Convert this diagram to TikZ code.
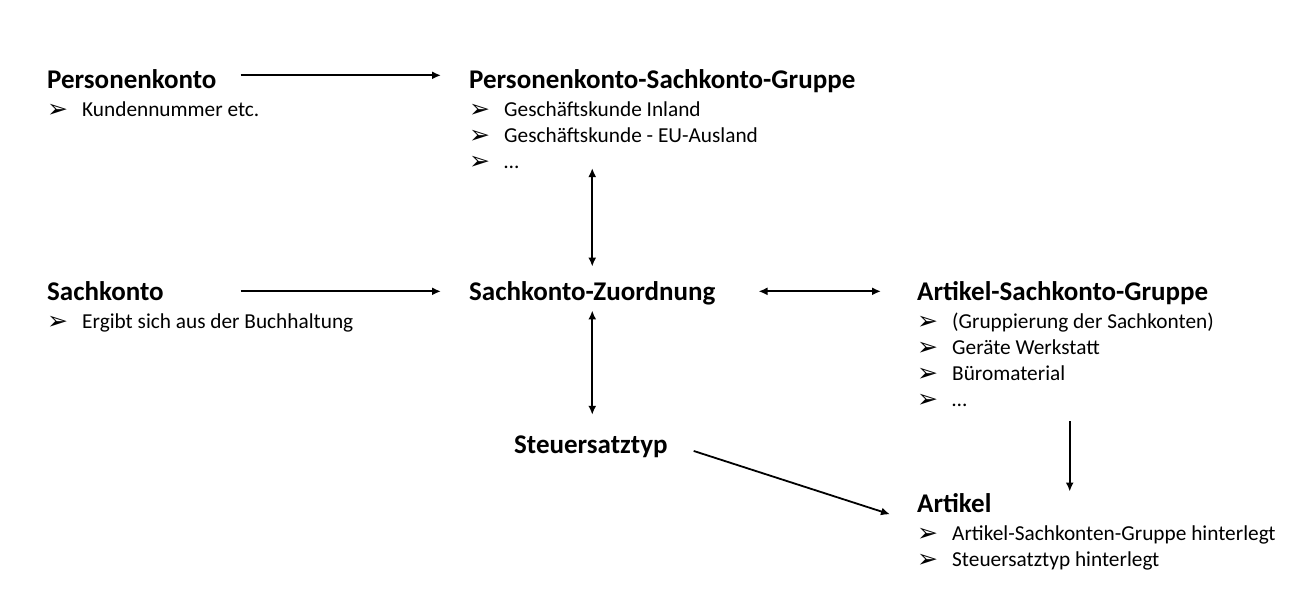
\documentclass[tikz,border=0pt]{standalone}
\usepackage{fontspec}
\setmainfont{Carlito}
\newfontfamily\symfont{DejaVu Sans}
\usetikzlibrary{arrows.meta,positioning}
\newcommand{\bul}{\makebox[35pt][l]{\raisebox{-1pt}{\symfont\fontsize{25}{25}\selectfont ➢}}}
\newcommand{\itm}[1]{\strut\bul #1}
\tikzset{
    title/.style={font=\fontsize{27}{30}\selectfont\bfseries, inner sep=0pt, anchor=base west},
    items/.style={font=\fontsize{21.3}{26}\selectfont, align=left, inner sep=0pt},
    link/.style={-{Latex[length=9pt,width=8pt]}, line width=1.8pt},
    both/.style={{Latex[length=9pt,width=8pt]}-{Latex[length=9pt,width=8pt]}, line width=1.8pt}
}

\begin{document}
\begin{tikzpicture}[x=1pt,y=-1pt]
    \useasboundingbox (0,0) rectangle (1303,612);
    % titles
    \node[title] (pk)  at (47,88.7)   {Personenkonto};
    \node[title] (psg) at (469,88.7)  {Personenkonto-Sachkonto-Gruppe};
    \node[title] (sk)  at (47,300.7)  {Sachkonto};
    \node[title] (sz)  at (469,300.7) {Sachkonto-Zuordnung};
    \node[title] (asg) at (917,300.7) {Artikel-Sachkonto-Gruppe};
    \node[title] (st)  at (514,453.7) {Steuersatztyp};
    \node[title] (art) at (917,512.7) {Artikel};
    % lists
    \node[items, below=9pt of pk.base west, anchor=north west] (pkL)
        {\itm{Kundennummer etc.}};
    \node[items, below=9pt of psg.base west, anchor=north west] (psgL)
        {\itm{Geschäftskunde Inland}\\ \itm{Geschäftskunde - EU-Ausland}\\ \itm{…}};
    \node[items, below=9pt of sk.base west, anchor=north west] (skL)
        {\itm{Ergibt sich aus der Buchhaltung}};
    \node[items, below=9pt of asg.base west, anchor=north west] (asgL)
        {\itm{(Gruppierung der Sachkonten)}\\ \itm{Geräte Werkstatt}\\ \itm{Büromaterial}\\ \itm{…}};
    \node[items, below=9pt of art.base west, anchor=north west] (artL)
        {\itm{Artikel-Sachkonten-Gruppe hinterlegt}\\ \itm{Steuersatztyp hinterlegt}};
    % connectors
    \draw[link, shorten <=24pt, shorten >=28pt] ([yshift=4pt]pk.east) -- ([yshift=4pt]psg.west |- pk.east);
    \draw[link, shorten <=24pt, shorten >=28pt] (sk.east -| pk.east) -- (sz.west |- sk.east);
    \draw[both, shorten <=43pt, shorten >=36pt] (sz.east |- sk.east) -- (asg.west |- sk.east);
    \draw[both, shorten >=15pt] ([yshift=8pt]sz.north |- psgL.south) -- (sz.north);
    \draw[both, shorten <=5pt, shorten >=21pt] (sz.south) -- (sz.south |- st.north);
    \draw[link] ([xshift=26pt,yshift=-4pt]st.east) -- ([xshift=-27pt,yshift=-11pt]art.west);
    \draw[link, shorten <=7pt, shorten >=2pt] ([xshift=7pt]asg.south |- asgL.south) -- ([xshift=7pt]asg.south |- art.north);
\end{tikzpicture}
\end{document}
